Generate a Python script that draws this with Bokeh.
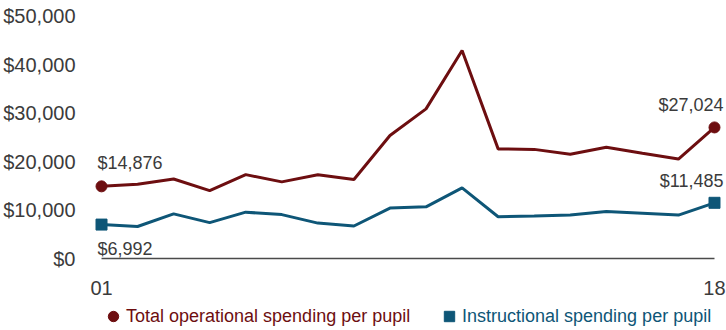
from bokeh.plotting import figure
from bokeh.layouts import column
from bokeh.models import Range1d, FixedTicker, NumeralTickFormatter, Legend, LegendItem
from bokeh.core.properties import value
from bokeh.embed import file_html
from bokeh.resources import INLINE

# ---- data ----
years = [1, 2, 3, 4, 5, 6, 7, 8, 9, 10, 11, 12, 13, 14, 15, 16, 17, 18]
total_spending = [14876, 15300, 16400, 14000, 17300, 15800, 17250, 16300, 25350,
                  30850, 42900, 22600, 22500, 21500, 22950, 21700, 20500, 27024]
instr_spending = [6992, 6600, 9200, 7400, 9550, 9050, 7300, 6700, 10400,
                  10650, 14550, 8600, 8750, 8950, 9700, 9350, 8950, 11485]
x_tick_labels = {1: "01", 18: "18"}
y_ticks = [0, 10000, 20000, 30000, 40000, 50000]
series_names = ["Total operational spending per pupil", "Instructional spending per pupil"]

RED = "#6d0e10"
BLUE = "#0e5677"
TXT = "#3b3b3b"
FONT = "Liberation Sans"

p = figure(width=726, height=297, output_backend="svg", toolbar_location=None,
           x_range=Range1d(0.75, 18.333), y_range=Range1d(-1237, 53196),
           min_border_left=92, min_border_right=0, min_border_top=0, min_border_bottom=33)
p.outline_line_color = None
p.grid.visible = False
p.background_fill_color = "white"
p.border_fill_color = "white"

# y axis
ya = p.yaxis[0]
ya.ticker = FixedTicker(ticks=y_ticks)
ya.formatter = NumeralTickFormatter(format="$0,0")
ya.axis_line_color = None
ya.major_tick_line_color = None
ya.minor_tick_line_color = None
ya.major_label_text_font = FONT
ya.major_label_text_font_size = "20px"
ya.major_label_text_color = TXT
ya.major_label_standoff = 11

# x axis
xa = p.xaxis[0]
xa.ticker = FixedTicker(ticks=[years[0], years[-1]])
xa.major_label_overrides = x_tick_labels
xa.axis_line_color = None
xa.major_tick_line_color = None
xa.minor_tick_line_color = None
xa.major_label_text_font = FONT
xa.major_label_text_font_size = "20px"
xa.major_label_text_color = TXT
xa.major_label_standoff = 10

# baseline
p.segment(x0=[years[0]], y0=[0], x1=[years[-1]], y1=[0], line_color="#4a4a4a", line_width=1.5)

# lines
p.line(years, total_spending, line_color=RED, line_width=3)
p.line(years, instr_spending, line_color=BLUE, line_width=3)

p.scatter([years[0], years[-1]], [total_spending[0], total_spending[-1]],
          marker="circle", size=11, fill_color=RED, line_color=RED)
p.scatter([years[0], years[-1]], [instr_spending[0], instr_spending[-1]],
          marker="square", size=11, fill_color=BLUE, line_color=BLUE)

# value labels
lab_kw = dict(text_font=value(FONT), text_font_size="18px", text_color=TXT, text_baseline="middle")
p.text(x=[years[0]], y=[total_spending[0]], text=[f"${total_spending[0]:,}"],
       x_offset=-4, y_offset=-23, text_align="left", **lab_kw)
p.text(x=[years[0]], y=[instr_spending[0]], text=[f"${instr_spending[0]:,}"],
       x_offset=-4, y_offset=24, text_align="left", **lab_kw)
p.text(x=[years[-1]], y=[total_spending[-1]], text=[f"${total_spending[-1]:,}"],
       x_offset=9, y_offset=-22, text_align="right", **lab_kw)
p.text(x=[years[-1]], y=[instr_spending[-1]], text=[f"${instr_spending[-1]:,}"],
       x_offset=9, y_offset=-22, text_align="right", **lab_kw)

# ---- legend strip (its frame is aligned with the chart's frame by the column) ----
lg = figure(width=726, height=33, output_backend="svg", toolbar_location=None,
            x_range=Range1d(0, 1), y_range=Range1d(0, 1),
            x_axis_location=None, y_axis_location=None,
            min_border_left=0, min_border_right=0, min_border_top=0, min_border_bottom=0)
lg.outline_line_color = None
lg.grid.visible = False
lg.background_fill_color = "white"
lg.border_fill_color = "white"
# legend key glyphs (their data point lies outside this strip's ranges, so only the key shows)
lc = lg.scatter(x=[years[-1]], y=[total_spending[-1]], marker="circle", size=11,
                fill_color=RED, line_color=RED)
ls = lg.scatter(x=[years[-1]], y=[instr_spending[-1]], marker="square", size=11,
                fill_color=BLUE, line_color=BLUE)

leg_kw = dict(orientation="horizontal", glyph_width=26, glyph_height=26, label_standoff=-3,
              padding=0, margin=0, border_line_color=None, background_fill_alpha=0,
              label_text_font=FONT, label_text_font_size="18px")
leg1 = Legend(items=[LegendItem(label=series_names[0], renderers=[lc])],
              location=(8, 1), label_text_color=RED, **leg_kw)
leg2 = Legend(items=[LegendItem(label=series_names[1], renderers=[ls])],
              location=(344, 1), label_text_color=BLUE, **leg_kw)
lg.add_layout(leg1)
lg.add_layout(leg2)

layout = column(p, lg, spacing=0)
open("out.html", "w").write(file_html(layout, INLINE))
